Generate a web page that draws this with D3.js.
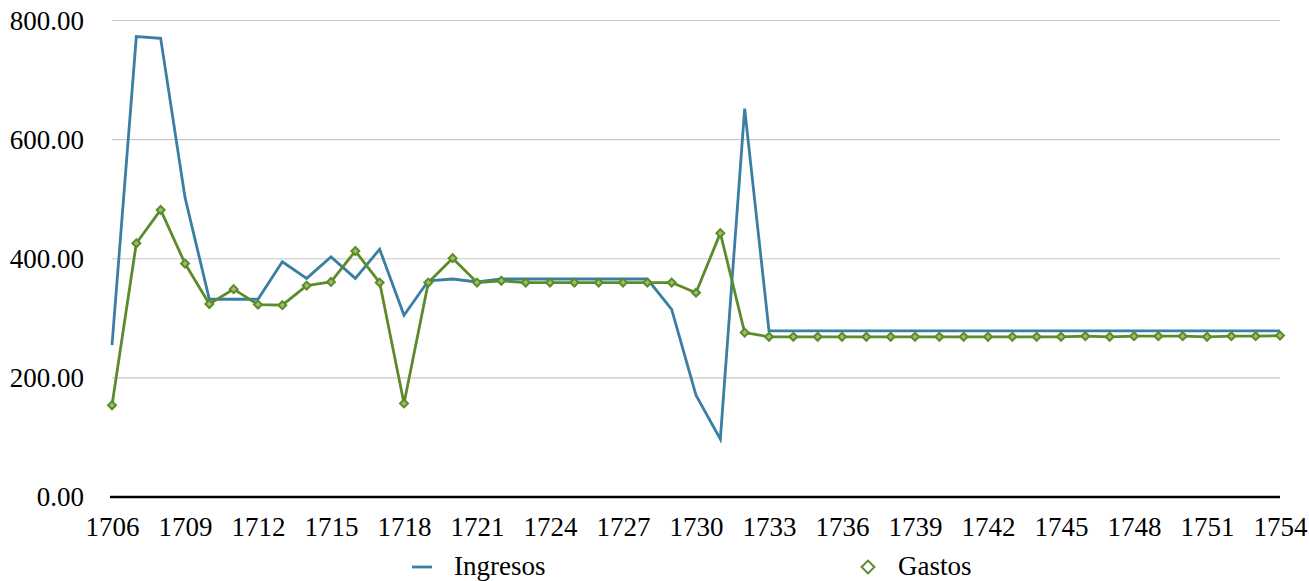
<!DOCTYPE html>
<html>
<head>
<meta charset="utf-8">
<script src="https://cdn.jsdelivr.net/npm/d3@7"></script>
<style>
  html, body { margin: 0; padding: 0; background: #fff; }
  svg { display: block; }
  svg text { font-family: "Liberation Serif", "Times New Roman", "DejaVu Serif", serif; }
</style>
</head>
<body>
<svg id="chart" width="1309" height="581"></svg>
<script>
// Yearly series, 1706–1754
const years = d3.range(1706, 1755);
const ingresos = [
  255, 773, 770, 503, 332, 332, 332, 395, 367, 403,
  367, 416, 305, 363, 366, 361, 366, 366, 366, 366,
  366, 366, 366, 315, 171, 97, 652, 279, 279, 279,
  279, 279, 279, 279, 279, 279, 279, 279, 279, 279,
  279, 279, 279, 279, 279, 279, 279, 279, 279
];
const gastos = [
  154, 426, 482, 392, 324, 349, 323, 322, 355, 361,
  413, 360, 157, 360, 401, 360, 363, 360, 360, 360,
  360, 360, 360, 360, 343, 443, 276, 269, 269, 269,
  269, 269, 269, 269, 269, 269, 269, 269, 269, 269,
  270, 269, 270, 270, 270, 269, 270, 270, 271
];
const yTicks = [0, 200, 400, 600, 800];
const xTicks = d3.range(1706, 1755, 3);
const seriesNames = ["Ingresos", "Gastos"];

const blue = "#3a7fa3";
const green = "#5b8b2b";
const serif = '"Liberation Serif", "Times New Roman", "DejaVu Serif", serif';
const fontSize = 27;

const svg = d3.select("#chart");
const plotLeft = 112, plotRight = 1280, plotTop = 20.5, plotBottom = 497;

const x = d3.scaleLinear().domain([1706, 1754]).range([plotLeft, plotRight]);
const y = d3.scaleLinear().domain([0, 800]).range([plotBottom, plotTop]);

const styleText = sel => sel
  .style("font-family", serif)
  .style("font-size", fontSize + "px")
  .attr("fill", "#000");

// Horizontal gridlines
svg.append("g")
  .selectAll("line")
  .data(yTicks.filter(d => d > 0))
  .join("line")
  .attr("x1", plotLeft).attr("x2", plotRight)
  .attr("y1", d => y(d)).attr("y2", d => y(d))
  .attr("stroke", "#c8c8c8").attr("stroke-width", 1.2);

// Y axis labels
const yAxis = d3.axisLeft(y).tickValues(yTicks).tickFormat(d3.format(".2f")).tickSize(0).tickPadding(0);
svg.append("g")
  .attr("transform", "translate(84,0)")
  .call(yAxis)
  .call(g => g.select(".domain").remove())
  .call(g => g.selectAll("text").call(styleText));

// X axis baseline and labels
svg.append("line")
  .attr("x1", plotLeft - 2).attr("x2", plotRight)
  .attr("y1", plotBottom).attr("y2", plotBottom)
  .attr("stroke", "#000").attr("stroke-width", 2.5);

const xAxis = d3.axisBottom(x).tickValues(xTicks).tickFormat(d3.format("d")).tickSize(0).tickPadding(0);
svg.append("g")
  .attr("transform", `translate(0,${plotBottom + 20})`)
  .call(xAxis)
  .call(g => g.select(".domain").remove())
  .call(g => g.selectAll("text").call(styleText));

// Series lines
const line = d3.line().x((d, i) => x(years[i])).y(d => y(d));

svg.append("path")
  .datum(ingresos)
  .attr("fill", "none").attr("stroke", blue)
  .attr("stroke-width", 2.8).attr("stroke-linejoin", "miter")
  .attr("d", line);

svg.append("path")
  .datum(gastos)
  .attr("fill", "none").attr("stroke", green)
  .attr("stroke-width", 2.8).attr("stroke-linejoin", "round")
  .attr("d", line);

// Diamond markers for Gastos
const diamond = d3.symbol().type(d3.symbolDiamond2).size(40);
svg.append("g")
  .selectAll("path")
  .data(gastos)
  .join("path")
  .attr("transform", (d, i) => `translate(${x(years[i])},${y(d)})`)
  .attr("d", diamond)
  .attr("fill", "#9cbf6a").attr("stroke", green).attr("stroke-width", 2);

// Legend
const legY = 567;
svg.append("line")
  .attr("x1", 412).attr("x2", 432)
  .attr("y1", legY).attr("y2", legY)
  .attr("stroke", blue).attr("stroke-width", 2.8);
svg.append("text")
  .attr("x", 454).attr("y", 575)
  .call(styleText)
  .text(seriesNames[0]);

svg.append("path")
  .attr("transform", `translate(868,${legY})`)
  .attr("d", d3.symbol().type(d3.symbolDiamond2).size(105)())
  .attr("fill", "#fff").attr("stroke", green).attr("stroke-width", 2);
svg.append("text")
  .attr("x", 898).attr("y", 575)
  .call(styleText)
  .text(seriesNames[1]);
</script>
</body>
</html>
